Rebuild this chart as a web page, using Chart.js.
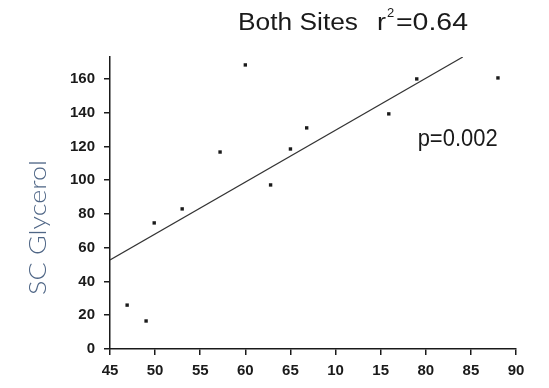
<!DOCTYPE html>
<html>
<head>
<meta charset="utf-8">
<script src="https://cdn.jsdelivr.net/npm/chart.js@4.4.1/dist/chart.umd.min.js"></script>
<style>
  html, body { margin: 0; padding: 0; background: #fff; }
  #wrap { width: 549px; height: 388px; }
</style>
</head>
<body>
<div id="wrap"><canvas id="myChart"></canvas></div>
<script>
// glycerol vs x, both sites pooled
const ptX = [46.9, 49.0, 49.9, 53.0, 57.2, 60.0, 62.8, 65.0, 66.8, 75.9, 79.0, 88.0];
const ptY = [26, 16.6, 74.7, 83, 116.7, 168.3, 97.2, 118.5, 131, 139.3, 160, 160.6];

// regression line end points
const fitX = [45, 84.1];
const fitY = [52.7, 173];

const xTicks = [45, 50, 55, 60, 65, 70, 75, 80, 85, 90];
const xTickLabels = ['45', '50', '55', '60', '65', '10', '15', '80', '85', '90'];
const yTicks = [0, 20, 40, 60, 80, 100, 120, 140, 160];

const ink = '#1a1a1a';

// squeeze a string into a given width
function fitText(ctx, text, x, y, w) {
  const m = ctx.measureText(text).width;
  ctx.save();
  ctx.translate(x, y);
  ctx.scale(w / m, 1);
  ctx.fillText(text, 0, 0);
  ctx.restore();
}

const labels = {
  id: 'labels',
  afterDraw(chart) {
    const ctx = chart.ctx;
    const xs = chart.scales.x, ys = chart.scales.y;
    ctx.save();
    ctx.fillStyle = ink;
    ctx.textBaseline = 'alphabetic';
    ctx.textAlign = 'left';

    ctx.font = '23px "Liberation Sans", Arial, sans-serif';
    fitText(ctx, 'Both Sites', 238, 30, 120);
    fitText(ctx, 'r', 377, 30, 9);
    ctx.font = '13px "Liberation Sans", Arial, sans-serif';
    ctx.fillText('2', 387, 17);
    ctx.font = '23px "Liberation Sans", Arial, sans-serif';
    fitText(ctx, '=0.64', 396, 30, 72);

    ctx.font = '24px "Liberation Sans", Arial, sans-serif';
    fitText(ctx, 'p=0.002', xs.getPixelForValue(79.1), ys.getPixelForValue(120.5), 80);

    // y axis title, rotated
    ctx.fillStyle = '#4f6686';
    ctx.font = '300 24px Lato, "Open Sans", sans-serif';
    ctx.translate(46, 295);
    ctx.rotate(-Math.PI / 2);
    fitText(ctx, 'SC Glycerol', 0, 0, 135);
    ctx.restore();
  }
};

const ctx = document.getElementById('myChart').getContext('2d');
new Chart(ctx, {
  type: 'scatter',
  data: {
    datasets: [{
      data: ptX.map((x, i) => ({ x: x, y: ptY[i] })),
      pointStyle: 'rect',
      pointRadius: 2.4,
      backgroundColor: ink,
      borderColor: ink,
      borderWidth: 0
    }, {
      type: 'line',
      data: fitX.map((x, i) => ({ x: x, y: fitY[i] })),
      borderColor: '#333',
      borderWidth: 1.2,
      pointRadius: 0,
      fill: false
    }]
  },
  options: {
    responsive: true,
    maintainAspectRatio: false,
    animation: false,
    layout: { padding: { top: 57, right: 33, left: 0, bottom: 0 } },
    plugins: {
      legend: { display: false },
      tooltip: { enabled: false }
    },
    scales: {
      x: {
        type: 'linear',
        min: 45,
        max: 90,
        afterBuildTicks: s => { s.ticks = xTicks.map(v => ({ value: v })); },
        afterFit: s => { s.height = 39; },
        grid: { drawOnChartArea: false, drawTicks: true, tickLength: 6, color: ink, lineWidth: 1.5 },
        border: { display: true, color: ink, width: 1.5 },
        ticks: {
          color: ink,
          padding: 7,
          maxRotation: 0,
          font: { family: '"Liberation Sans", Arial, sans-serif', size: 15, weight: 'bold' },
          callback: v => xTickLabels[xTicks.indexOf(v)]
        }
      },
      y: {
        min: 0,
        max: 173,
        afterBuildTicks: s => { s.ticks = yTicks.map(v => ({ value: v })); },
        afterFit: s => { s.width = 110; },
        grid: { drawOnChartArea: false, drawTicks: true, tickLength: 6, color: ink, lineWidth: 1.5 },
        border: { display: true, color: ink, width: 1.5 },
        ticks: {
          color: ink,
          padding: 9,
          font: { family: '"Liberation Sans", Arial, sans-serif', size: 15, weight: 'bold' }
        }
      }
    }
  },
  plugins: [labels]
});
</script>
</body>
</html>
